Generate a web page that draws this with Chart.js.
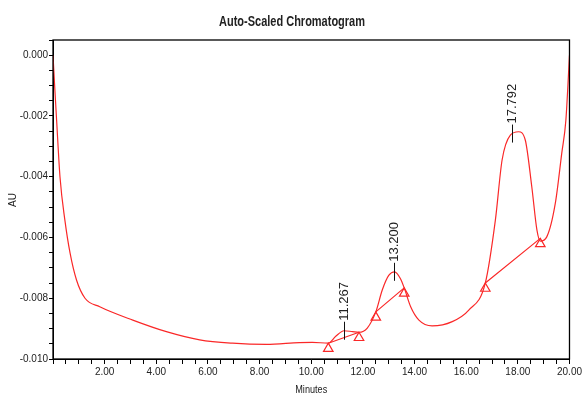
<!DOCTYPE html>
<html>
<head>
<meta charset="utf-8">
<script src="https://cdn.jsdelivr.net/npm/chart.js@4/dist/chart.umd.min.js"></script>
<style>
  html, body { margin: 0; padding: 0; background: #fff; }
  canvas { display: block; }
</style>
</head>
<body>
<canvas id="chrom" width="584" height="393"></canvas>
<script>
// 読み取ったデータ
const minutes = [0, 0.05, 0.14, 0.27, 0.46, 0.66, 0.91, 1.24, 1.81, 3.09, 4.39, 5.68, 6.95, 8.26, 9.54, 10.04,
  10.66, 10.95, 11.27, 11.6, 11.85, 12.17, 12.5, 12.75, 13.0, 13.23, 13.45, 13.6, 13.85, 14.17, 14.68, 15.46,
  16.1, 16.74, 17.13, 17.39, 17.71, 18.03, 18.29, 18.54, 18.74, 18.87, 19.12, 19.45, 19.7, 19.86, 20.0];
const au = [0.0, -0.0008, -0.00214, -0.004, -0.00543, -0.00651, -0.0074, -0.008, -0.00828, -0.00872, -0.0091,
  -0.00937, -0.00948, -0.00952, -0.00946, -0.00945, -0.00948, -0.00925, -0.00907, -0.0091, -0.00912, -0.00898,
  -0.00845, -0.00773, -0.00725, -0.00713, -0.00735, -0.00766, -0.00828, -0.00872, -0.00891, -0.00877, -0.00839,
  -0.0075, -0.00543, -0.00345, -0.00263, -0.00252, -0.0028, -0.00433, -0.00576, -0.00612, -0.00598, -0.00488,
  -0.00323, -0.00214, 0.0];

// ベースライン（ピーク開始・終了点）
const baseStartTimes = [10.66, 12.5, 16.74];
const baseStartAU = [-0.00948, -0.00845, -0.0075];
const baseEndTimes = [11.85, 13.6, 18.87];
const baseEndAU = [-0.00912, -0.00766, -0.00603];

// ピーク
const peakTimes = [11.267, 13.200, 17.792];
const peakAU = [-0.00907, -0.00713, -0.00258];
const peakLabels = ['11.267', '13.200', '17.792'];

const xTickLabels = ['2.00', '4.00', '6.00', '8.00', '10.00', '12.00', '14.00', '16.00', '18.00', '20.00'];
const yTickLabels = ['0.000', '-0.002', '-0.004', '-0.006', '-0.008', '-0.010'];

const red = 'rgb(250,40,40)';
const sans = '"Liberation Sans", Arial, sans-serif';

// ベースラインのデータを作成（区間の間は null で切る）
const baseData = [];
baseStartTimes.forEach(function(t, i) {
    baseData.push({ x: t, y: baseStartAU[i] });
    baseData.push({ x: baseEndTimes[i], y: baseEndAU[i] });
    baseData.push({ x: baseEndTimes[i] + 0.01, y: null });
});
// 三角マーカー（頂点がベースライン点に来るよう少し下げる）
const markOffset = 0.00018;
const markData = [];
baseStartTimes.forEach(function(t, i) {
    markData.push({ x: t, y: baseStartAU[i] - markOffset });
    markData.push({ x: baseEndTimes[i], y: baseEndAU[i] - markOffset });
});

// 横に詰めた文字を描く
function narrowText(ctx, text, x, y, width) {
    const w = ctx.measureText(text).width;
    ctx.save();
    ctx.translate(x, y);
    ctx.scale(width / w, 1);
    ctx.fillText(text, 0, 0);
    ctx.restore();
}

// タイトル・枠・ピークラベル描画
const decorPlugin = {
    id: 'decor',
    afterDraw(chart) {
        const ctx = chart.ctx;
        const a = chart.chartArea;
        const xs = chart.scales.x, ys = chart.scales.y;
        ctx.save();
        // 枠
        ctx.strokeStyle = '#000';
        ctx.lineWidth = 1.3;
        ctx.strokeRect(a.left, a.top, a.right - a.left, a.bottom - a.top);
        // タイトル（キャンバス中央）
        ctx.fillStyle = '#222';
        ctx.font = 'bold 14px ' + sans;
        ctx.textAlign = 'center';
        ctx.textBaseline = 'middle';
        narrowText(ctx, 'Auto-Scaled Chromatogram', chart.width / 2, 22, 146);
        // 軸タイトル
        ctx.font = '10px ' + sans;
        narrowText(ctx, 'Minutes', (a.left + a.right) / 2, 390, 32);
        ctx.save();
        ctx.translate(13, 200);
        ctx.rotate(-Math.PI / 2);
        ctx.fillText('AU', 0, 0);
        ctx.restore();
        // ピークラベル
        ctx.strokeStyle = '#111';
        ctx.lineWidth = 1;
        ctx.font = '13px ' + sans;
        peakTimes.forEach(function(t, i) {
            const px = Math.round(xs.getPixelForValue(t)) + 0.5;
            const py = ys.getPixelForValue(peakAU[i]);
            ctx.beginPath();
            ctx.moveTo(px, py - 9);
            ctx.lineTo(px, py + 9);
            ctx.stroke();
            ctx.save();
            ctx.translate(px, py - 10);
            ctx.rotate(-Math.PI / 2);
            ctx.textAlign = 'left';
            ctx.textBaseline = 'middle';
            ctx.fillText(peakLabels[i], 0, 0);
            ctx.restore();
        });
        ctx.restore();
    }
};

function near(v, step) {
    return Math.abs(v / step - Math.round(v / step)) < 1e-6;
}

new Chart(document.getElementById('chrom').getContext('2d'), {
    type: 'line',
    data: {
        datasets: [
            {
                data: minutes.map((m, i) => ({ x: m, y: au[i] })),
                borderColor: red,
                borderWidth: 1.2,
                pointRadius: 0,
                tension: 0.4,
                cubicInterpolationMode: 'monotone',
                fill: false
            },
            {
                data: baseData,
                borderColor: red,
                borderWidth: 1.2,
                pointRadius: 0,
                tension: 0,
                spanGaps: false,
                fill: false
            },
            {
                data: markData,
                showLine: false,
                pointStyle: 'triangle',
                pointRadius: 5.5,
                pointBorderWidth: 1.2,
                pointBorderColor: red,
                pointBackgroundColor: 'rgba(255,255,255,0)'
            }
        ]
    },
    options: {
        responsive: false,
        animation: false,
        layout: { padding: { left: 0, right: 13, top: 40, bottom: 0 } },
        plugins: {
            legend: { display: false },
            title: { display: false },
            tooltip: { enabled: false }
        },
        scales: {
            x: {
                type: 'linear',
                min: 0,
                max: 20,
                afterFit(scale) { scale.height = 34; },
                border: { color: '#000', width: 1 },
                grid: { drawOnChartArea: false, drawTicks: true, tickLength: 5, color: '#000' },
                ticks: {
                    stepSize: 0.5,
                    autoSkip: false,
                    maxRotation: 0,
                    padding: 2,
                    color: '#222',
                    font: { family: sans, size: 10 },
                    callback(v) {
                        if (v > 0 && near(v, 2)) {
                            const lbl = v.toFixed(2);
                            return xTickLabels.includes(lbl) ? lbl : '';
                        }
                        return '';
                    }
                }
            },
            y: {
                min: -0.010,
                max: 0.0005,
                afterFit(scale) { scale.width = 53; },
                border: { color: '#000', width: 1 },
                grid: { drawOnChartArea: false, drawTicks: true, tickLength: 4, color: '#000' },
                ticks: {
                    stepSize: 0.0005,
                    autoSkip: false,
                    padding: 1,
                    color: '#222',
                    font: { family: sans, size: 10 },
                    callback(v) {
                        if (near(v, 0.002)) {
                            const lbl = (Math.abs(v) < 1e-9 ? 0 : v).toFixed(3);
                            return yTickLabels.includes(lbl) ? lbl : '';
                        }
                        return '';
                    }
                }
            }
        }
    },
    plugins: [decorPlugin]
});
</script>
</body>
</html>
